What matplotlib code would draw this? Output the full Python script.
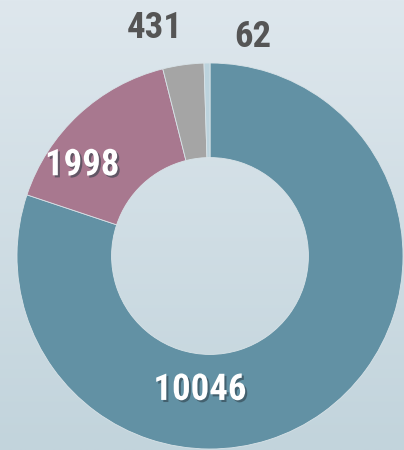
import matplotlib
matplotlib.use("Agg")
import matplotlib.pyplot as plt
import matplotlib.patheffects as pe
from matplotlib.colors import LinearSegmentedColormap
import numpy as np

# data
labels = ["10046", "1998", "431", "62"]
values = [10046, 1998, 431, 62]
colors = ["#6291a4", "#a8788f", "#a5a5a5", "#bcd3dd"]

W, H = 404, 450
fig = plt.figure(figsize=(W / 100, H / 100), dpi=100)

# background gradient
bg = fig.add_axes([0, 0, 1, 1])
bg_cmap = LinearSegmentedColormap.from_list("bg", ["#c2d4dc", "#dee7ed"])
bg.imshow(np.linspace(0, 1, 256).reshape(-1, 1)[::-1], cmap=bg_cmap,
          aspect="auto", extent=[0, 1, 0, 1])
bg.set_axis_off()

# donut axes: centre (210, 256) px from top, radius 193 px
cx, cy, r = 210, 256, 193
ax = fig.add_axes([(cx - r) / W, (H - cy - r) / H, 2 * r / W, 2 * r / H])
ax.set_facecolor("none")
ax.pie(values, colors=colors, startangle=90, counterclock=False, radius=1,
       wedgeprops=dict(width=0.49, edgecolor="#d8e3e8", linewidth=0.6))
ax.set_xlim(-1, 1)
ax.set_ylim(-1, 1)
ax.set_aspect("equal")
ax.set_axis_off()

# label placement (x, y in radius units), inside = white with shadow
label_pos = [(-0.052, -0.694), (-0.663, 0.470), (-0.285, 1.181), (0.223, 1.135)]
inside = [True, True, False, False]
font = dict(family=["Roboto Condensed", "Liberation Sans Narrow", "Liberation Sans"],
            weight="bold", size=26.5)
shadow = [pe.SimplePatchShadow(offset=(1.5, -1.5), shadow_rgbFace="#2a3a44", alpha=0.55),
          pe.Normal()]

for lab, (x, y), ins in zip(labels, label_pos, inside):
    if ins:
        ax.text(x, y, lab, color="white", ha="center", va="center",
                path_effects=shadow, **font)
    else:
        ax.text(x, y, lab, color="#555555", ha="center", va="center",
                clip_on=False, **font)

fig.savefig("out.png", dpi=100)
